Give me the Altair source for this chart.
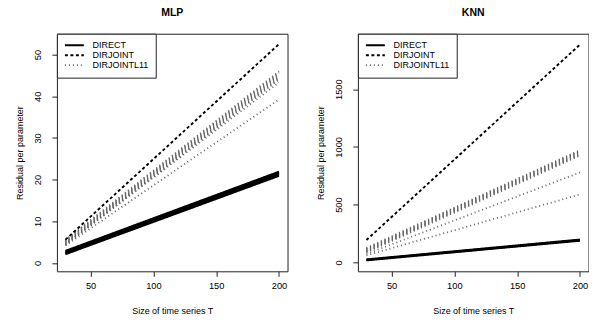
import altair as alt
import pandas as pd

T_START = 30
T_END = 200

methods = ["DIRECT", "DIRJOINT", "DIRJOINTL11"]

# MLP panel: value of each line at T=30 and T=200
mlp_direct_start = [2.1, 2.3, 2.5, 2.7, 2.9]
mlp_direct_end = [20.9, 21.15, 21.4, 21.65, 21.9]
mlp_joint_start = [5.6]
mlp_joint_end = [52.5]
mlp_l11_start = [4.3, 4.45, 4.6, 4.75, 4.9, 5.05, 5.2, 5.35, 5.5, 4.5, 4.2]
mlp_l11_end = [44.0, 44.25, 44.5, 44.75, 45.0, 45.25, 45.5, 45.75, 46.0, 43.3, 39.2]

# KNN panel
knn_direct_start = [17, 21, 25]
knn_direct_end = [187, 192, 197]
knn_joint_start = [193]
knn_joint_end = [1886]
knn_l11_start = [85, 90, 95, 100, 105, 110, 115, 120, 125, 72, 60]
knn_l11_end = [925, 931, 937, 943, 949, 955, 961, 967, 972, 778, 588]

x_ticks = [50, 100, 150, 200]
mlp_y_ticks = [0, 10, 20, 30, 40, 50]
knn_y_ticks = [0, 500, 1000, 1500]


def build(groups):
    rows = []
    for method, starts, ends in groups:
        for i, (s, e) in enumerate(zip(starts, ends)):
            lid = f"{method}_{i}"
            rows.append({"method": method, "id": lid, "T": T_START, "v": s})
            rows.append({"method": method, "id": lid, "T": T_END, "v": e})
    return pd.DataFrame(rows)


mlp_df = build([
    ("DIRJOINTL11", mlp_l11_start, mlp_l11_end),
    ("DIRECT", mlp_direct_start, mlp_direct_end),
    ("DIRJOINT", mlp_joint_start, mlp_joint_end),
])
knn_df = build([
    ("DIRJOINTL11", knn_l11_start, knn_l11_end),
    ("DIRECT", knn_direct_start, knn_direct_end),
    ("DIRJOINT", knn_joint_start, knn_joint_end),
])

FONT = "Liberation Sans"


def legend():
    return alt.Legend(
        title=None, orient="top-left", offset=0, fillColor="white",
        strokeColor="#222", padding=7, symbolType="stroke", symbolSize=361,
        labelFontSize=9, labelFont=FONT,
        labelColor="black", clipHeight=9, rowPadding=-4, labelOffset=7.7,
        labelLimit=200,
    )


def panel(df, title, ydomain, yticks):
    return alt.Chart(df, title=alt.Title(title, fontSize=10.5, font=FONT, fontWeight="bold",
                                         frame="group", anchor="middle", offset=15,
                                         color="black")).mark_line(
        strokeCap="butt"
    ).encode(
        x=alt.X("T:Q", scale=alt.Scale(domain=[23.2, 206.8], nice=False, zero=False),
                axis=alt.Axis(values=x_ticks, title="Size of time series T")),
        y=alt.Y("v:Q", scale=alt.Scale(domain=ydomain, nice=False, zero=False),
                axis=alt.Axis(values=yticks, format="d", title="Residual per parameter",
                              labelAngle=270)),
        detail="id:N",
        color=alt.Color("method:N",
                        scale=alt.Scale(domain=methods, range=["black", "black", "#666666"]),
                        legend=legend()),
        strokeDash=alt.StrokeDash("method:N",
                                  scale=alt.Scale(domain=methods, range=[[1, 0], [3, 2.5], [1, 3]]),
                                  legend=legend()),
        strokeWidth=alt.StrokeWidth("method:N",
                                    scale=alt.Scale(domain=methods, range=[2, 1.8, 1]),
                                    legend=legend()),
    ).properties(width=231, height=238)


left = panel(mlp_df, "MLP", [-2.0, 55.0], mlp_y_ticks)
right = panel(knn_df, "KNN", [-78, 1980], knn_y_ticks)

chart = alt.hconcat(left, right, spacing=27.5).resolve_scale(
    color="independent", strokeDash="independent", strokeWidth="independent"
).resolve_legend(
    color="independent", strokeDash="independent", strokeWidth="independent"
).properties(
    padding={"left": 7, "top": -1.5, "right": 0, "bottom": 0}
).configure_view(
    stroke="#222", strokeWidth=1
).configure_axis(
    domain=False, grid=False, ticks=True, tickSize=5, tickColor="#222",
    labelFont=FONT, labelFontSize=9.3, labelColor="black", labelPadding=7,
    titleFont=FONT, titleFontSize=9, titleFontWeight="normal", titleColor="black",
).configure_axisX(labelPadding=5.5, titlePadding=15.5).configure_axisY(labelPadding=9, titlePadding=9)

chart.save("out.html", embed_options={"renderer": "svg", "actions": False})
